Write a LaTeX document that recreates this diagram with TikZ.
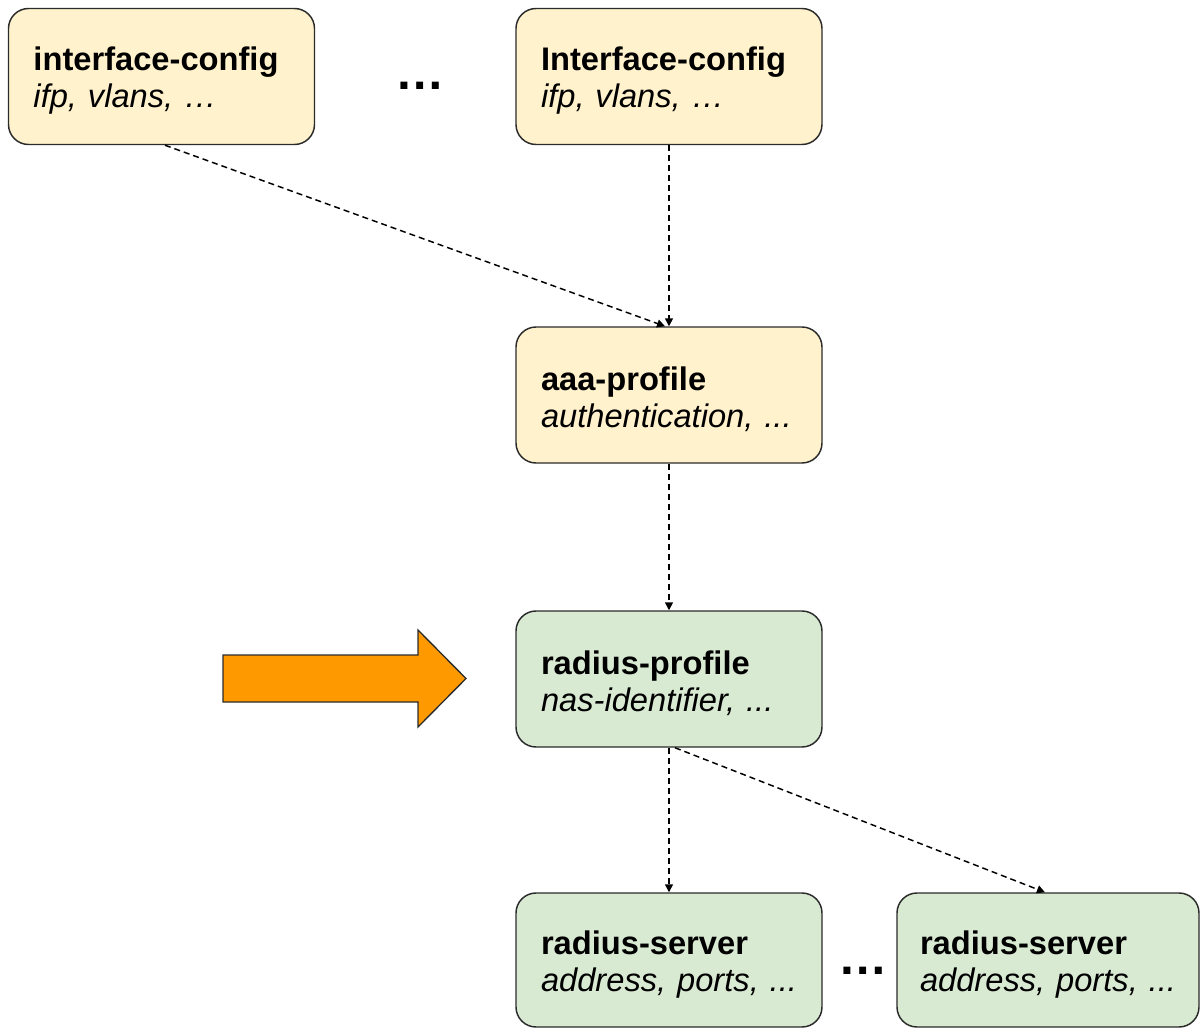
\documentclass[tikz,border=0pt]{standalone}
\usepackage{fontspec}
\setmainfont{Liberation Sans}
\usetikzlibrary{arrows.meta}
\definecolor{boxyellow}{HTML}{FFF2CC}
\definecolor{boxgreen}{HTML}{D9EAD3}
\definecolor{boxline}{HTML}{2B2B2B}
\definecolor{bigorange}{HTML}{FF9900}
\newcommand{\topstrut}{\rule{0pt}{24pt}}
\tikzset{
  cfgbox/.style={draw=boxline, line width=1.1pt, rounded corners=15pt,
    minimum width=229.5pt, minimum height=102pt, inner xsep=18.75pt, inner ysep=0pt,
    text width=192pt, align=left, font=\fontsize{24.5}{27.75}\selectfont},
  ybox/.style={cfgbox, fill=boxyellow},
  gbox/.style={cfgbox, fill=boxgreen},
  link/.style={draw=black, line width=1.1pt, dash pattern=on 4.5pt off 3pt,
    -{Triangle[width=6pt,length=6pt]}},
  dots/.style={font=\fontsize{37}{40}\selectfont\bfseries, inner sep=0pt}
}
\begin{document}
\begin{tikzpicture}[x=0.75pt,y=-0.75pt]
\useasboundingbox (0,0) rectangle (1200,1028);
\node[ybox] (b1) at (161.5,76.5) {\topstrut\textbf{interface-config}\\\textit{ifp, vlans, …}};
\node[ybox] (b2) at (669,76.5) {\topstrut\textbf{Interface-config}\\\textit{ifp, vlans, …}};
\node[ybox] (b3) at (669,395) {\topstrut\textbf{aaa-profile}\\\textit{authentication, ...}};
\node[gbox] (b4) at (669,679) {\topstrut\textbf{radius-profile}\\\textit{nas-identifier, ...}};
\node[gbox, minimum height=100.5pt] (b5) at (669,960) {\topstrut\textbf{radius-server}\\\textit{address, ports, ...}};
\node[gbox, minimum height=100.5pt, minimum width=226.5pt, inner xsep=17pt, text width=192pt] (b6) at (1048,960) {\topstrut\textbf{radius-server}\\\textit{address, ports, ...}};
\node[dots] (d1) at (420,86) {…};
\node[dots] (d2) at (863,971) {…};
\draw[link] ([xshift=2.6pt]b1.south) -- ([xshift=-3pt]b3.north);
\draw[link] (b2.south) -- (b3.north);
\draw[link] (b3.south) -- (b4.north);
\draw[link] (b4.south) -- (b5.north);
\draw[link] ([xshift=4.5pt]b4.south) -- ([xshift=-2.3pt]b6.north);
\draw[draw=boxline, line width=1pt, fill=bigorange, line join=miter]
  (223,655) -- (418,655) -- (418,630) -- (466,678.5) -- (418,727) -- (418,702) -- (223,702) -- cycle;
\end{tikzpicture}
\end{document}
